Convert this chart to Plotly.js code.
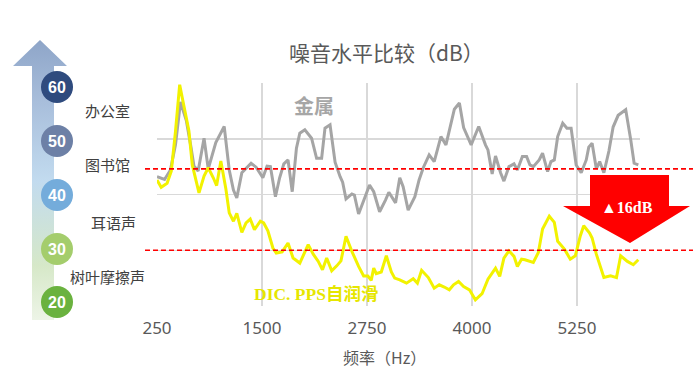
<!DOCTYPE html>
<html>
<head>
<meta charset="utf-8">
<script src="https://cdn.plot.ly/plotly-3.0.1.min.js"></script>
<style>html,body{margin:0;padding:0;background:#fff;}#chart{width:693px;height:388px;}</style>
</head>
<body>
<div id="chart"></div>
<script>
// ---- data ----
const freqMetal = [250,340,410,470,530,600,650,690,740,810,860,950,1050,1110,1160,1200,1260,1370,1430,1510,1560,1600,1660,1710,1760,1810,1860,1910,1950,2010,2090,2150,2210,2250,2310,2370,2430,2460,2500,2570,2600,2650,2730,2780,2830,2900,2970,3010,3090,3140,3180,3240,3320,3370,3420,3490,3550,3630,3690,3790,3850,3900,3990,4080,4160,4190,4240,4280,4340,4380,4440,4500,4540,4600,4650,4690,4730,4800,4840,4900,4940,4980,5020,5080,5130,5180,5240,5300,5360,5390,5430,5480,5520,5570,5630,5680,5740,5830,5890,5930,5980];
const dbMetal = [43.2,42.7,44.4,48.9,56.6,53.2,48.9,45.1,44.2,50.1,44.6,49.3,52.2,44.4,40.8,39.4,43.9,45.6,44.9,43.0,45.1,45.0,39.6,43.0,45.5,46.2,40.5,48.3,51.0,51.6,50.1,46.5,46.5,51.9,52.5,45.8,43.2,42.2,39.2,40.1,39.9,36.5,39.7,41.7,40.5,36.9,39.0,40.4,38.5,43.0,41.4,37.2,39.6,42.6,44.8,47.1,45.9,50.4,48.9,55.3,56.4,52.0,48.9,52.2,48.9,48.0,43.7,46.9,43.9,42.4,45.0,45.5,44.4,46.8,46.8,45.3,45.0,46.2,47.4,44.1,45.9,46.2,50.4,52.8,51.9,51.9,45.3,43.9,46.2,48.5,49.2,44.6,45.9,43.9,47.8,52.1,54.2,55.2,49.8,45.6,45.3];

const freqPPS = [250,300,370,420,470,520,570,630,670,750,810,860,920,960,1010,1070,1110,1160,1200,1260,1310,1360,1410,1480,1520,1570,1630,1670,1740,1810,1870,1950,2050,2110,2170,2220,2270,2330,2390,2440,2500,2570,2650,2710,2760,2800,2830,2860,2920,2980,3040,3080,3140,3220,3300,3350,3400,3480,3550,3610,3670,3730,3780,3840,3900,3970,4040,4120,4190,4240,4280,4330,4380,4440,4500,4540,4590,4630,4680,4730,4790,4840,4920,4980,5020,5100,5170,5230,5290,5330,5400,5430,5480,5570,5650,5720,5770,5850,5920,5980];
const dbPPS = [42.6,41.3,42.0,44.2,51.3,59.7,55.9,51.4,45.3,40.3,43.3,44.8,43.0,41.6,46.0,41.0,36.7,35.2,36.6,33.2,34.9,35.6,33.7,35.2,34.9,33.5,30.4,29.5,29.7,31.3,28.6,27.7,31.0,29.3,28.0,26.5,28.6,26.3,27.2,28.1,32.5,29.8,27.1,25.4,25.4,24.6,26.8,25.8,26.1,29.0,26.1,25.0,24.7,24.1,24.9,24.1,26.4,25.1,23.2,23.8,23.4,22.9,23.8,24.4,23.5,22.9,21.1,22.2,24.8,25.9,26.8,25.3,28.6,29.9,28.9,27.1,28.4,28.3,28.0,27.8,29.6,33.8,36.1,35.0,31.6,30.2,28.4,29.0,32.6,34.4,33.1,32.2,29.3,25.1,25.4,25.1,29.0,28.0,27.4,28.3];

const xTickVals = [250,1500,2750,4000,5250];
const levelValues = [60,50,40,30,20];
const levelColors = ['#2f4b7e','#6d80a6','#74acdb','#a4cd6c','#6ab23f'];
const levelNames = ['办公室','图书馆','耳语声','树叶摩擦声'];
const refLines = [44.6, 30];
const reductionText = '▲16dB';
const seriesNames = ['金属','DIC. PPS自润滑'];

// ---- layout helpers (pixel space on overlay axes) ----
const W = 693, H = 388;
const Y = py => H - py;
const plotL = 157, plotR = 640, plotT = 83, plotB = 306;

const shapes = [];
const annotations = [];

// reference dashed lines
refLines.forEach(v => {
  shapes.push({type:'line', xref:'paper', yref:'y', x0:145/W, x1:1, y0:v, y1:v,
    line:{color:'#ff0000', width:1.6, dash:'5px,3px'}});
});

// level circles
const circleY = [87,141,195,249,302];
levelValues.forEach((v,i) => {
  const cx = 57, cy = circleY[i], r = 16;
  shapes.push({type:'circle', xref:'x2', yref:'y2', x0:cx-r, x1:cx+r, y0:Y(cy+r), y1:Y(cy-r),
    fillcolor: levelColors[i], line:{width:0}});
  annotations.push({xref:'x2', yref:'y2', x:cx, y:Y(cy), text:'<b>'+v+'</b>', showarrow:false,
    font:{family:'Liberation Sans Narrow, Liberation Sans, sans-serif', size:16, color:'#ffffff'}});
});

// level names
const nameX = [107,107,113,107], nameY = [110,164,222,276];
levelNames.forEach((t,i) => {
  annotations.push({xref:'x2', yref:'y2', x:nameX[i], y:Y(nameY[i]), text:t, showarrow:false,
    font:{family:'Noto Sans CJK SC, sans-serif', size:15, color:'#404040'}});
});

// red reduction arrow
const arrowPts = [[590,175],[669,175],[669,206],[690,206],[630,243],[563,206],[590,206]];
shapes.push({type:'path', xref:'x2', yref:'y2',
  path: 'M' + arrowPts.map(p => p[0]+','+Y(p[1])).join(' L') + ' Z',
  fillcolor:'#ff0000', line:{width:0}});
annotations.push({xref:'x2', yref:'y2', x:627, y:Y(207), text:'<b>'+reductionText+'</b>', showarrow:false,
  font:{family:'Liberation Serif, DejaVu Serif, serif', size:16, color:'#ffffff'}});

// titles & series labels
annotations.push({xref:'x2', yref:'y2', x:386, y:Y(52), text:'噪音水平比较（dB）', showarrow:false,
  font:{family:'Noto Sans CJK SC, sans-serif', size:21, color:'#595959'}});
annotations.push({xref:'x2', yref:'y2', x:384, y:Y(357), text:'频率（Hz）', showarrow:false,
  font:{family:'Noto Sans CJK SC, sans-serif', size:16, color:'#595959'}});
annotations.push({xref:'x2', yref:'y2', x:314, y:Y(105), text:'<b>'+seriesNames[0]+'</b>', showarrow:false,
  font:{family:'Noto Sans CJK SC, sans-serif', size:20, color:'#a6a6a6'}});
annotations.push({xref:'x2', yref:'y2', x:316, y:Y(294), text:'<b>'+seriesNames[1]+'</b>', showarrow:false,
  font:{family:'Liberation Serif, Noto Sans CJK SC, serif', size:17.5, color:'#e6e600'}});

const traces = [
  {x:[40,67,54,54,32,32,13,40], y:[40,66,66,320,320,66,66,40].map(Y), xaxis:'x2', yaxis:'y2',
   type:'scatter', mode:'lines', fill:'toself', line:{width:0, color:'rgba(0,0,0,0)'},
   fillgradient:{type:'vertical', start:Y(322), stop:Y(40),
     colorscale:[[0,'#eef5e8'],[0.2,'#d6e8c8'],[0.5,'#c2dbef'],[0.78,'#a8bedb'],[1,'#8ea5c8']]},
   hoverinfo:'skip', showlegend:false},
  {x:freqMetal, y:dbMetal, type:'scatter', mode:'lines', name:seriesNames[0],
   line:{color:'#a5a5a5', width:3}, showlegend:false},
  {x:freqPPS, y:dbPPS, type:'scatter', mode:'lines', name:seriesNames[1],
   line:{color:'#f2f200', width:3}, showlegend:false}
];

const layout = {
  width:W, height:H,
  margin:{l:0, r:0, t:0, b:0},
  paper_bgcolor:'#ffffff', plot_bgcolor:'rgba(0,0,0,0)',
  showlegend:false, hovermode:false,
  font:{family:'Noto Sans, Noto Sans CJK SC, sans-serif', color:'#595959'},
  xaxis:{domain:[plotL/W, plotR/W], range:[250,6000], tickvals:xTickVals, ticktext:xTickVals.map(String),
    showgrid:true, gridcolor:'#d9d9d9', gridwidth:1.5, zeroline:false, showline:false, ticks:'',
    tickfont:{size:17, color:'#595959'}, ticklabelstandoff:10, anchor:'y', fixedrange:true},
  yaxis:{domain:[(H-plotB)/H, (H-plotT)/H], range:[20,60], dtick:10, tick0:20,
    showgrid:true, gridcolor:'#d9d9d9', gridwidth:1.5, zeroline:false, showline:false,
    showticklabels:false, ticks:'', anchor:'x', fixedrange:true},
  xaxis2:{domain:[0,1], range:[0,W], visible:false, anchor:'y2', fixedrange:true},
  yaxis2:{domain:[0,1], range:[0,H], visible:false, anchor:'x2', fixedrange:true},
  shapes:shapes,
  annotations:annotations
};

Plotly.newPlot('chart', traces, layout, {displayModeBar:false, staticPlot:true});
</script>
</body>
</html>
